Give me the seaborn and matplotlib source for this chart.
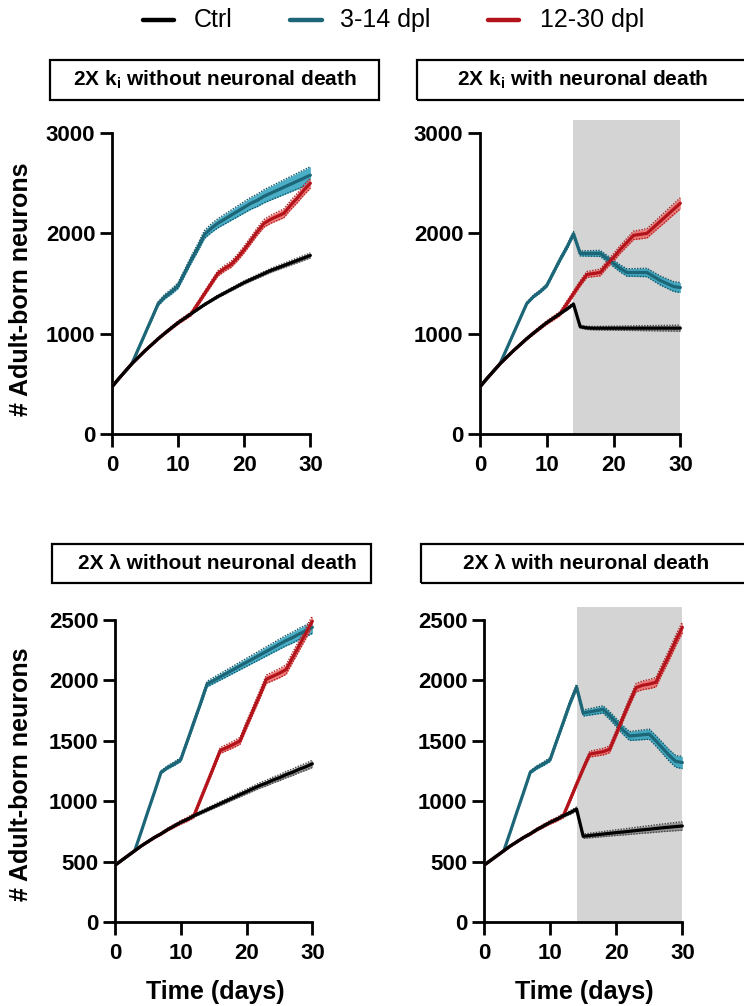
import numpy as np
import pandas as pd
import matplotlib
matplotlib.use("Agg")
import matplotlib.pyplot as plt
import seaborn as sns
from matplotlib.patches import Rectangle
from matplotlib.lines import Line2D

sns.set_style("ticks")
plt.rcParams['font.family'] = ['Liberation Sans', 'DejaVu Sans']
plt.rcParams['mathtext.fontset'] = 'custom'
plt.rcParams['mathtext.rm'] = 'Liberation Sans:bold'
plt.rcParams['mathtext.bf'] = 'Liberation Sans:bold'
plt.rcParams['mathtext.it'] = 'Liberation Sans:bold'
for k in ("text.color", "axes.labelcolor", "xtick.color", "ytick.color", "axes.edgecolor"):
    plt.rcParams[k] = "black"

# ---------------- data ----------------
days = list(range(0, 31))
series_names = ["Ctrl", "3-14 dpl", "12-30 dpl"]
panel_titles = [r"2X k$_{\mathregular{i}}$ without neuronal death",
                r"2X k$_{\mathregular{i}}$ with neuronal death",
                "2X \u03bb without neuronal death",
                "2X \u03bb with neuronal death"]

# Panel A: 2X ki without neuronal death
a_ctrl = [470, 550, 625, 700, 765, 830, 890, 950, 1005, 1058, 1110, 1155, 1200, 1245, 1290, 1330,
          1370, 1405, 1440, 1475, 1510, 1540, 1570, 1600, 1630, 1655, 1680, 1705, 1730, 1755, 1780]
a_early = [470, 550, 625, 700, 850, 1000, 1150, 1300, 1370, 1420, 1480, 1610, 1740, 1860, 1990, 2050,
           2100, 2140, 2180, 2220, 2260, 2300, 2330, 2370, 2400, 2430, 2460, 2490, 2520, 2550, 2580]
a_late = [470, 550, 625, 700, 765, 830, 890, 950, 1005, 1058, 1110, 1155, 1200, 1300, 1400, 1500,
          1600, 1650, 1690, 1760, 1840, 1930, 2020, 2100, 2140, 2170, 2200, 2280, 2350, 2430, 2500]

# Panel B: 2X ki with neuronal death
b_ctrl = [470, 550, 625, 700, 765, 830, 890, 950, 1005, 1058, 1110, 1155, 1200, 1245, 1295, 1070,
          1058, 1055, 1055, 1055, 1055, 1055, 1055, 1055, 1055, 1055, 1055, 1055, 1055, 1055, 1055]
b_early = [470, 550, 625, 700, 850, 1000, 1150, 1300, 1370, 1420, 1480, 1610, 1740, 1860, 1995, 1800,
           1800, 1800, 1800, 1750, 1700, 1650, 1610, 1610, 1610, 1610, 1570, 1530, 1500, 1470, 1460]
b_late = [470, 550, 625, 700, 765, 830, 890, 950, 1005, 1058, 1110, 1155, 1200, 1300, 1400, 1500,
          1590, 1600, 1610, 1690, 1760, 1840, 1910, 1980, 1990, 2000, 2060, 2120, 2180, 2240, 2300]

# Panel C: 2X lambda without neuronal death
c_ctrl = [470, 510, 550, 590, 630, 665, 700, 730, 765, 795, 825, 850, 880, 905, 930, 955,
          980, 1005, 1030, 1055, 1080, 1105, 1130, 1150, 1175, 1195, 1220, 1240, 1265, 1285, 1310]
c_early = [470, 510, 550, 590, 750, 915, 1075, 1240, 1280, 1310, 1345, 1500, 1655, 1810, 1970, 2000,
           2030, 2060, 2090, 2120, 2150, 2180, 2210, 2240, 2270, 2300, 2330, 2355, 2385, 2410, 2440]
c_late = [470, 510, 550, 590, 630, 665, 700, 730, 765, 795, 825, 850, 880, 1015, 1150, 1285,
          1420, 1445, 1470, 1500, 1630, 1755, 1880, 2010, 2035, 2060, 2090, 2190, 2290, 2390, 2490]

# Panel D: 2X lambda with neuronal death
d_ctrl = [470, 510, 550, 590, 630, 665, 700, 730, 765, 795, 825, 850, 880, 905, 935, 710,
          716, 722, 728, 734, 740, 745, 751, 757, 763, 768, 774, 780, 785, 790, 795]
d_early = [470, 510, 550, 590, 750, 915, 1075, 1240, 1280, 1310, 1345, 1500, 1655, 1810, 1945, 1730,
           1740, 1750, 1760, 1710, 1650, 1590, 1540, 1545, 1550, 1555, 1500, 1440, 1380, 1330, 1320]
d_late = [470, 510, 550, 590, 630, 665, 700, 730, 765, 795, 825, 850, 880, 1010, 1140, 1270,
          1390, 1400, 1410, 1430, 1560, 1690, 1820, 1940, 1960, 1970, 1985, 2100, 2210, 2330, 2440]

# half-width of the error band at day 30 for each panel (Ctrl, 3-14, 12-30)
band_end = [[25, 85, 50], [30, 50, 55], [30, 50, 45], [35, 50, 45]]

panel_data = [(a_ctrl, a_early, a_late), (b_ctrl, b_early, b_late),
              (c_ctrl, c_early, c_late), (d_ctrl, d_early, d_late)]
y_max = [3000, 3000, 2500, 2500]
y_ticks = [[0, 1000, 2000, 3000], [0, 1000, 2000, 3000],
           [0, 500, 1000, 1500, 2000, 2500], [0, 500, 1000, 1500, 2000, 2500]]
x_ticks = [0, 10, 20, 30]
death_window = (14, 30)

# ---------------- style ----------------
line_colors = ["#000000", "#1c6677", "#b3141c"]
band_colors = ["#8a8a8a", "#2aa0bd", "#f06a6a"]
edge_colors = ["#444444", "#0f5566", "#b02020"]

W, H = 744, 1006
fig = plt.figure(figsize=(W / 100, H / 100), dpi=100)

def rect(x0, x1, ytop, ybot):
    return [x0 / W, 1 - ybot / H, (x1 - x0) / W, (ybot - ytop) / H]

axes_rects = [rect(112, 313, 120, 434), rect(480, 683, 120, 434),
              rect(115, 315, 607, 922), rect(484, 685, 607, 922)]
ylim_top = [3130, 3130, 2608, 2608]
ylabel_y = [0.46, None, 0.47, None]

for i, (r, data) in enumerate(zip(axes_rects, panel_data)):
    ax = fig.add_axes(r)
    if i in (1, 3):
        ax.axvspan(*death_window, color="#d4d4d4", zorder=0, lw=0)
    rows = []
    for name, vals in zip(series_names, data):
        for d, v in zip(days, vals):
            rows.append({"day": d, "value": v, "group": name})
    df = pd.DataFrame(rows)
    for j, (name, vals) in enumerate(zip(series_names, data)):
        v = np.array(vals, dtype=float)
        t = np.array(days, dtype=float)
        hw = band_end[i][j] * t / 30.0
        ax.fill_between(t, v - hw, v + hw, color=band_colors[j], alpha=0.85, lw=0, zorder=2 + j)
        ax.plot(t, v - hw, ls=(0, (1, 1)), color=edge_colors[j], lw=1.0, zorder=2 + j)
        ax.plot(t, v + hw, ls=(0, (1, 1)), color=edge_colors[j], lw=1.0, zorder=2 + j)
    order_z = {"Ctrl": 7, "3-14 dpl": 5, "12-30 dpl": 6}
    for j, name in enumerate(series_names):
        sns.lineplot(data=df[df.group == name], x="day", y="value", color=line_colors[j],
                     lw=2.3, ax=ax, zorder=order_z[name], legend=False)
    ax.set_xlim(0, 30.4)
    ax.set_ylim(0, ylim_top[i])
    ax.set_xticks(x_ticks)
    ax.set_yticks(y_ticks[i])
    ax.spines["left"].set_bounds(0, y_max[i])
    ax.spines["bottom"].set_bounds(0, 30)
    sns.despine(ax=ax)
    for s in ("left", "bottom"):
        ax.spines[s].set_linewidth(2.0)
    ax.tick_params(width=2.0, length=9, labelsize=16, color="black")
    ax.tick_params(axis="x", pad=6)
    ax.tick_params(axis="y", pad=3)
    for lab in ax.get_xticklabels() + ax.get_yticklabels():
        lab.set_fontweight("bold")
    ax.set_xlabel("Time (days)" if i >= 2 else "", fontsize=18, fontweight="bold", labelpad=12)
    ax.set_ylabel("# Adult-born neurons" if i in (0, 2) else "", fontsize=18, fontweight="bold")
    ax.patch.set_alpha(0)
    if i in (0, 2):
        ax.yaxis.set_label_coords(-(r[0] * W - 33) / (r[2] * W), ylabel_y[i])

# title boxes (pixel coords)
boxes = [(50, 379, 60, 100), (417, 760, 60, 100), (52, 371, 544, 583), (421, 760, 544, 583)]
text_centers = [214.5, 583, 217, 586]
for (x0, x1, y0, y1), title, cx in zip(boxes, panel_titles, text_centers):
    fig.patches.append(Rectangle((x0 / W, 1 - y1 / H), (x1 - x0) / W, (y1 - y0) / H,
                                 transform=fig.transFigure, fill=False, ec="black", lw=1.6))
    fig.text(cx / W, 1 - ((y0 + y1) / 2) / H, title, ha="center", va="center",
             fontsize=15, fontweight="bold")

# legend (manual, pixel positions)
leg_lines = [(143, 174), (290, 322), (488, 519)]
leg_text_x = [194, 340, 540]
for (x0, x1), tx, c, name in zip(leg_lines, leg_text_x, line_colors, series_names):
    fig.add_artist(Line2D([x0 / W, x1 / W], [1 - 20 / H, 1 - 20 / H], color=c, lw=3.2,
                          transform=fig.transFigure))
    fig.text(tx / W, 1 - 20 / H, name, ha="left", va="center", fontsize=18)

fig.savefig("out.png", dpi=100)
